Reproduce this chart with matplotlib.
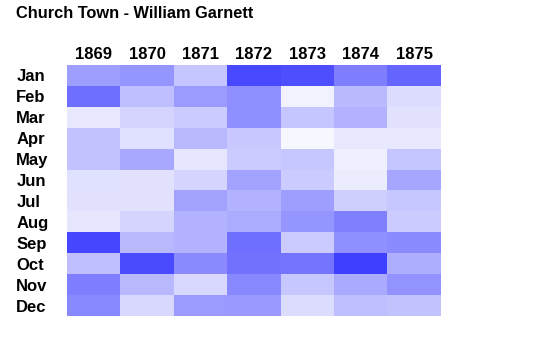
import numpy as np
import matplotlib.pyplot as plt
from matplotlib.colors import LinearSegmentedColormap

years = ['1869', '1870', '1871', '1872', '1873', '1874', '1875']
months = ['Jan', 'Feb', 'Mar', 'Apr', 'May', 'Jun',
          'Jul', 'Aug', 'Sep', 'Oct', 'Nov', 'Dec']

# relative intensity (0 = white, 1 = darkest blue)
jan = [0.50, 0.55, 0.30, 0.95, 0.92, 0.67, 0.80]
feb = [0.75, 0.33, 0.52, 0.58, 0.07, 0.36, 0.18]
mar = [0.12, 0.22, 0.27, 0.58, 0.30, 0.40, 0.15]
apr = [0.32, 0.16, 0.37, 0.28, 0.04, 0.12, 0.12]
may = [0.32, 0.45, 0.13, 0.27, 0.29, 0.08, 0.30]
jun = [0.16, 0.15, 0.22, 0.48, 0.27, 0.10, 0.46]
jul = [0.15, 0.15, 0.48, 0.40, 0.50, 0.25, 0.29]
aug = [0.13, 0.22, 0.40, 0.43, 0.55, 0.66, 0.27]
sep = [0.96, 0.37, 0.40, 0.75, 0.27, 0.58, 0.60]
oct_ = [0.33, 0.94, 0.60, 0.73, 0.72, 1.00, 0.42]
nov = [0.67, 0.37, 0.20, 0.62, 0.29, 0.44, 0.56]
dec = [0.62, 0.20, 0.52, 0.53, 0.18, 0.33, 0.32]

data = np.array([jan, feb, mar, apr, may, jun, jul, aug, sep, oct_, nov, dec])

cmap = LinearSegmentedColormap.from_list('wb', ['#ffffff', '#3f3fff'])

plt.rcParams['font.family'] = ['Liberation Sans', 'DejaVu Sans']

fig = plt.figure(figsize=(5.35, 3.62), dpi=100)
ax = fig.add_axes([67/535, 1-316/362, (441-67)/535, (316-65)/362])

ax.imshow(data, cmap=cmap, vmin=0, vmax=1, aspect='auto', interpolation='nearest')

ax.set_xticks(range(len(years)))
ax.set_xticklabels(years, fontsize=12, fontweight='bold')
ax.set_yticks(range(len(months)))
ax.set_yticklabels(months, fontsize=12, fontweight='bold')
ax.xaxis.tick_top()
ax.tick_params(axis='x', length=0, pad=2)
ax.tick_params(axis='y', length=0, pad=36.5)
for lab in ax.get_yticklabels():
    lab.set_horizontalalignment('left')
for s in ax.spines.values():
    s.set_visible(False)

fig.text(16/535, 1-14/362, 'Church Town - William Garnett', fontsize=11.8,
         fontweight='bold', va='center', ha='left')

plt.savefig('out.png', dpi=100)
